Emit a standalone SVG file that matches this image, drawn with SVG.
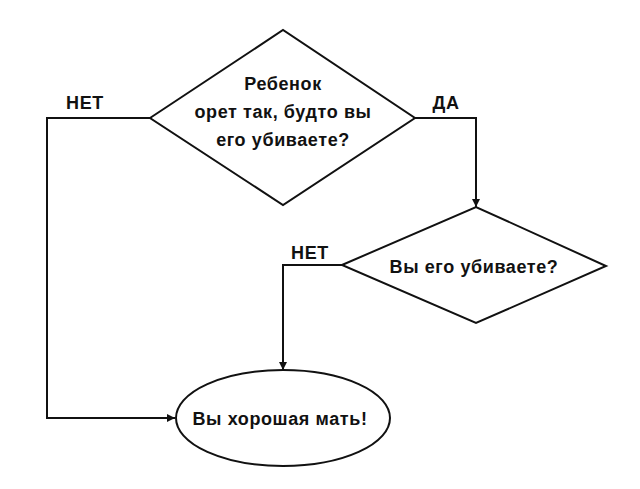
<svg xmlns="http://www.w3.org/2000/svg" width="640" height="489" viewBox="0 0 640 489">
<style>
.s{fill:#fff;stroke:#111;stroke-width:2}
.c{fill:none;stroke:#111;stroke-width:2}
text{font-family:"Liberation Sans",Arial,sans-serif;font-weight:bold;font-size:18px;letter-spacing:0.6px;fill:#111;text-anchor:middle}
</style>
<defs><marker id="a" viewBox="0 0 10 10" refX="10" refY="5" markerWidth="8" markerHeight="8" markerUnits="userSpaceOnUse" orient="auto"><path d="M0,0L10,5L0,10z" fill="#111"/></marker></defs>
<rect width="640" height="489" fill="#fff"/>
<g id="connectors">
<path class="c" d="M150,118H47V418H175" marker-end="url(#a)"/>
<path class="c" d="M415,118H476V207" marker-end="url(#a)"/>
<path class="c" d="M342,265H283V370" marker-end="url(#a)"/>
<text x="85" y="109">НЕТ</text>
<text x="446" y="109">ДА</text>
<text x="310" y="259">НЕТ</text>
</g>
<g id="q1"><polygon class="s" points="150,118 283,30 415,118 283,205"/>
<text x="283" y="90">Ребенок</text><text x="283" y="118">орет так, будто вы</text><text x="283" y="146">его убиваете?</text></g>
<g id="q2"><polygon class="s" points="342,265 476,207 606,266 476,323"/>
<text x="474" y="273">Вы его убиваете?</text></g>
<g id="end"><ellipse class="s" cx="283" cy="418" rx="107" ry="48"/>
<text x="280" y="425">Вы хорошая мать!</text></g>
</svg>
